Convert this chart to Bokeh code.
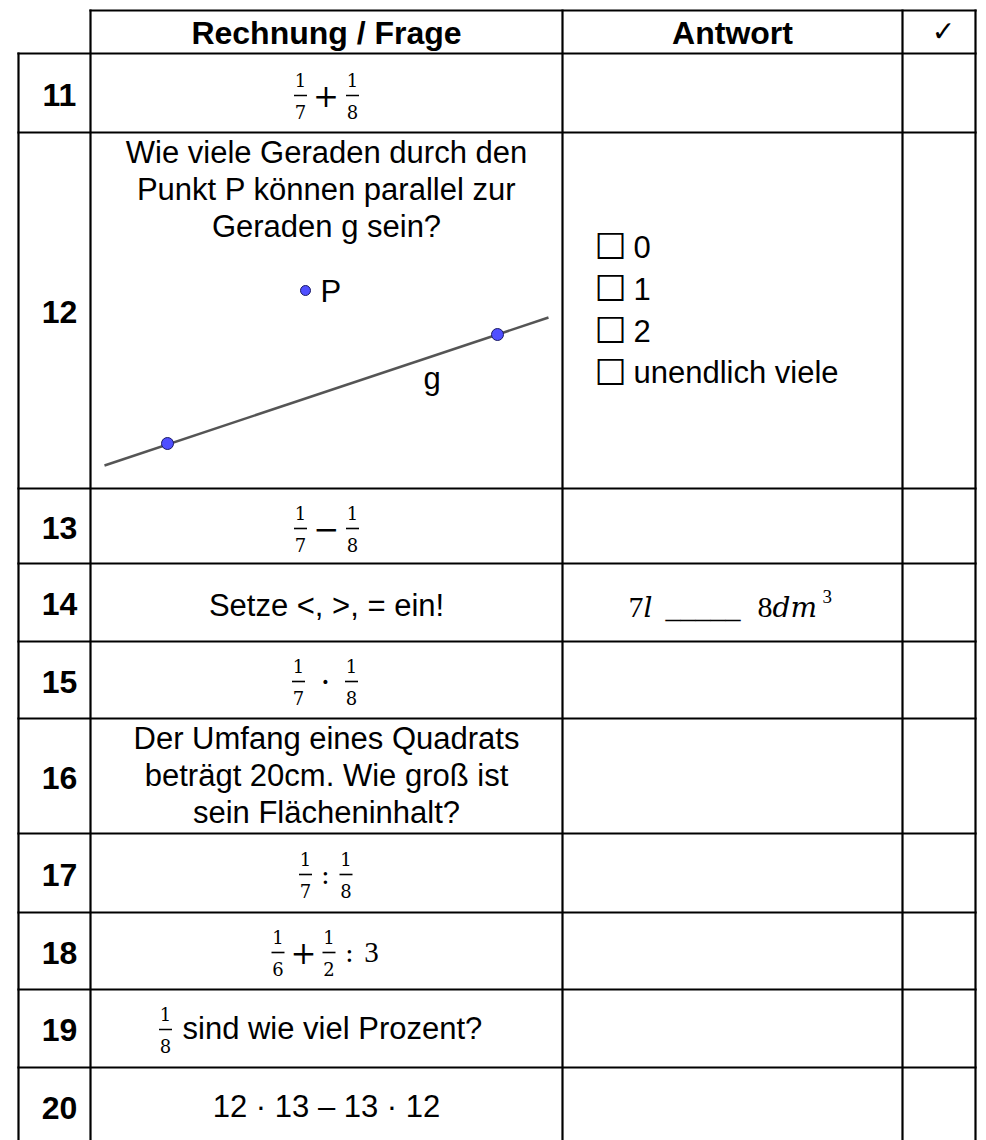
from bokeh.plotting import figure
from bokeh.models import Range1d
from bokeh.embed import file_html
from bokeh.resources import INLINE
from bokeh.core.properties import value

# ---------------- data (texts of the worksheet) ----------------
header_labels = ["Rechnung / Frage", "Antwort", "✓"]
row_numbers = ["11", "12", "13", "14", "15", "16", "17", "18", "19", "20"]

q12_lines = ["Wie viele Geraden durch den", "Punkt P können parallel zur", "Geraden g sein?"]
q12_options = ["0", "1", "2", "unendlich viele"]
q14_text = "Setze <, >, = ein!"
q16_lines = ["Der Umfang eines Quadrats", "beträgt 20cm. Wie groß ist", "sein Flächeninhalt?"]
q19_text = "sind wie viel Prozent?"
q20_text = "12 · 13 – 13 · 12"
a14_parts = ["7", "l", "_____", "8", "dm", "3"]

# fraction expressions: numerators, denominators, operators between them
expr11_num, expr11_den, expr11_ops = ["1", "1"], ["7", "8"], ["+"]
expr13_num, expr13_den, expr13_ops = ["1", "1"], ["7", "8"], ["−"]
expr15_num, expr15_den, expr15_ops = ["1", "1"], ["7", "8"], ["·"]
expr17_num, expr17_den, expr17_ops = ["1", "1"], ["7", "8"], [":"]
expr18_num, expr18_den, expr18_ops, expr18_tail = ["1", "1"], ["6", "2"], ["+", ":"], "3"
expr19_num, expr19_den = ["1"], ["8"]

# geometry sketch in row 12 (line g through two points, point P)
g_line_x = [104, 548]
g_line_y = [465, 317]
g_points_x = [167, 497]
g_points_y = [443, 334]
p_point_x = [305]
p_point_y = [290]

# ---------------- layout ----------------
W, H = 986, 1140
col_x = [18, 90, 562, 902, 975]
row_y = [10, 53, 132, 488, 563, 641, 718, 833, 912, 989, 1067, 1145]

SANS = "Liberation Sans"
SERIF = "Liberation Serif"
SYM = "DejaVu Sans"
OPF = "DejaVu Serif"
K = 0.35  # shift from drawn y to the alphabetic baseline, in em

p = figure(width=W, height=H, x_range=Range1d(0, W), y_range=Range1d(H, 0),
           output_backend="svg", toolbar_location=None,
           x_axis_location=None, y_axis_location=None, min_border=0)
p.outline_line_color = None
p.grid.visible = False
p.background_fill_color = "white"
p.border_fill_color = "white"


def T(x, base, s, size=31, font=SANS, style="normal", align="center", color="black"):
    p.text(x=[x], y=[base - K * size], text=[s], text_font=value(font),
           text_font_size=f"{size}px", text_font_style=style, text_align=align,
           text_baseline="alphabetic", text_color=color)


def C(x, yc, s, size, font, align="center"):
    # glyph drawn centred on yc
    p.text(x=[x], y=[yc], text=[s], text_font=value(font), text_font_size=f"{size}px",
           text_align=align, text_baseline="alphabetic", text_color="black")


def frac(xc, by, n, d):
    T(xc, by - 9, n, 18, OPF)
    T(xc, by + 23, d, 18, OPF)
    p.segment(x0=[xc - 6.5], y0=[by], x1=[xc + 6.5], y1=[by], line_width=1.6, line_color="black")


# ---------------- table grid ----------------
LW = 2.2
hx0, hx1, hy = [col_x[1]], [col_x[-1]], [row_y[0]]
for yv in row_y[1:-1]:
    hx0.append(col_x[0]); hx1.append(col_x[-1]); hy.append(yv)
p.segment(x0=hx0, y0=hy, x1=hx1, y1=hy, line_width=LW, line_color="black", line_cap="square")
vx, vy0 = [col_x[0]], [row_y[1]]
for xv in col_x[1:]:
    vx.append(xv); vy0.append(row_y[0])
p.segment(x0=vx, y0=vy0, x1=vx, y1=[H + 5] * len(vx), line_width=LW, line_color="black",
          line_cap="square")

# ---------------- header ----------------
c_q = (col_x[1] + col_x[2]) / 2
c_a = (col_x[2] + col_x[3]) / 2
T(c_q, 44, header_labels[0], 32, SANS, "bold")
T(c_a, 44, header_labels[1], 32, SANS, "bold")
C(943, 31, header_labels[2], 28, SYM)

# ---------------- row numbers ----------------
for i, lab in enumerate(row_numbers):
    cy = (row_y[i + 1] + row_y[i + 2]) / 2
    T(59, cy + 13, lab, 32, SANS, "bold")

# ---------------- row 11 ----------------
frac(300, 95, expr11_num[0], expr11_den[0])
C(325.5, 95, expr11_ops[0], 31, OPF)
frac(352, 95, expr11_num[1], expr11_den[1])

# ---------------- row 12 ----------------
for k, line in enumerate(q12_lines):
    T(c_q, 163 + 37 * k, line)
p.line(g_line_x, g_line_y, line_color="#555555", line_width=2.5)
p.scatter(g_points_x, g_points_y, size=12, fill_color="#4f4fff", line_color="#1a1a66", line_width=1)
p.scatter(p_point_x, p_point_y, size=10, fill_color="#4f4fff", line_color="#1a1a66", line_width=1)
T(320, 302, "P", 31, SANS, align="left")
T(423, 389, "g", 31, SANS, align="left")
for k, o in enumerate(q12_options):
    yc = 246 + 42 * k
    C(594, yc, "☐", 36, SYM, align="left")
    T(633, yc + 11, o, 31, SANS, align="left")

# ---------------- row 13 ----------------
frac(300, 528, expr13_num[0], expr13_den[0])
C(326, 528, expr13_ops[0], 31, OPF)
frac(352, 528, expr13_num[1], expr13_den[1])

# ---------------- row 14 ----------------
T(c_q, 616, q14_text)
T(628, 617, a14_parts[0], 30, SERIF, align="left")
T(643, 617, a14_parts[1], 28, OPF, "italic", align="left")
T(665, 617, a14_parts[2], 30, SERIF, align="left")
T(757, 617, a14_parts[3], 30, SERIF, align="left")
T(772, 617, a14_parts[4], 28, OPF, "italic", align="left")
T(822, 603, a14_parts[5], 19, SERIF, align="left")

# ---------------- row 15 ----------------
frac(298, 681, expr15_num[0], expr15_den[0])
C(325, 681, expr15_ops[0], 31, OPF)
frac(351, 681, expr15_num[1], expr15_den[1])

# ---------------- row 16 ----------------
for k, line in enumerate(q16_lines):
    T(c_q, 749 + 37 * k, line)

# ---------------- row 17 ----------------
frac(305, 874, expr17_num[0], expr17_den[0])
C(325, 874, expr17_ops[0], 26, OPF)
frac(345.5, 874, expr17_num[1], expr17_den[1])

# ---------------- row 18 ----------------
frac(277.5, 952, expr18_num[0], expr18_den[0])
C(303, 952, expr18_ops[0], 31, OPF)
frac(328.5, 952, expr18_num[1], expr18_den[1])
C(349, 952, expr18_ops[1], 26, OPF)
T(371, 962, expr18_tail, 29, SERIF)

# ---------------- row 19 ----------------
frac(165, 1029, expr19_num[0], expr19_den[0])
T(182, 1039, q19_text, 31, SANS, align="left")

# ---------------- row 20 ----------------
T(c_q, 1117, q20_text)

open("out.html", "w").write(file_html(p, INLINE))
